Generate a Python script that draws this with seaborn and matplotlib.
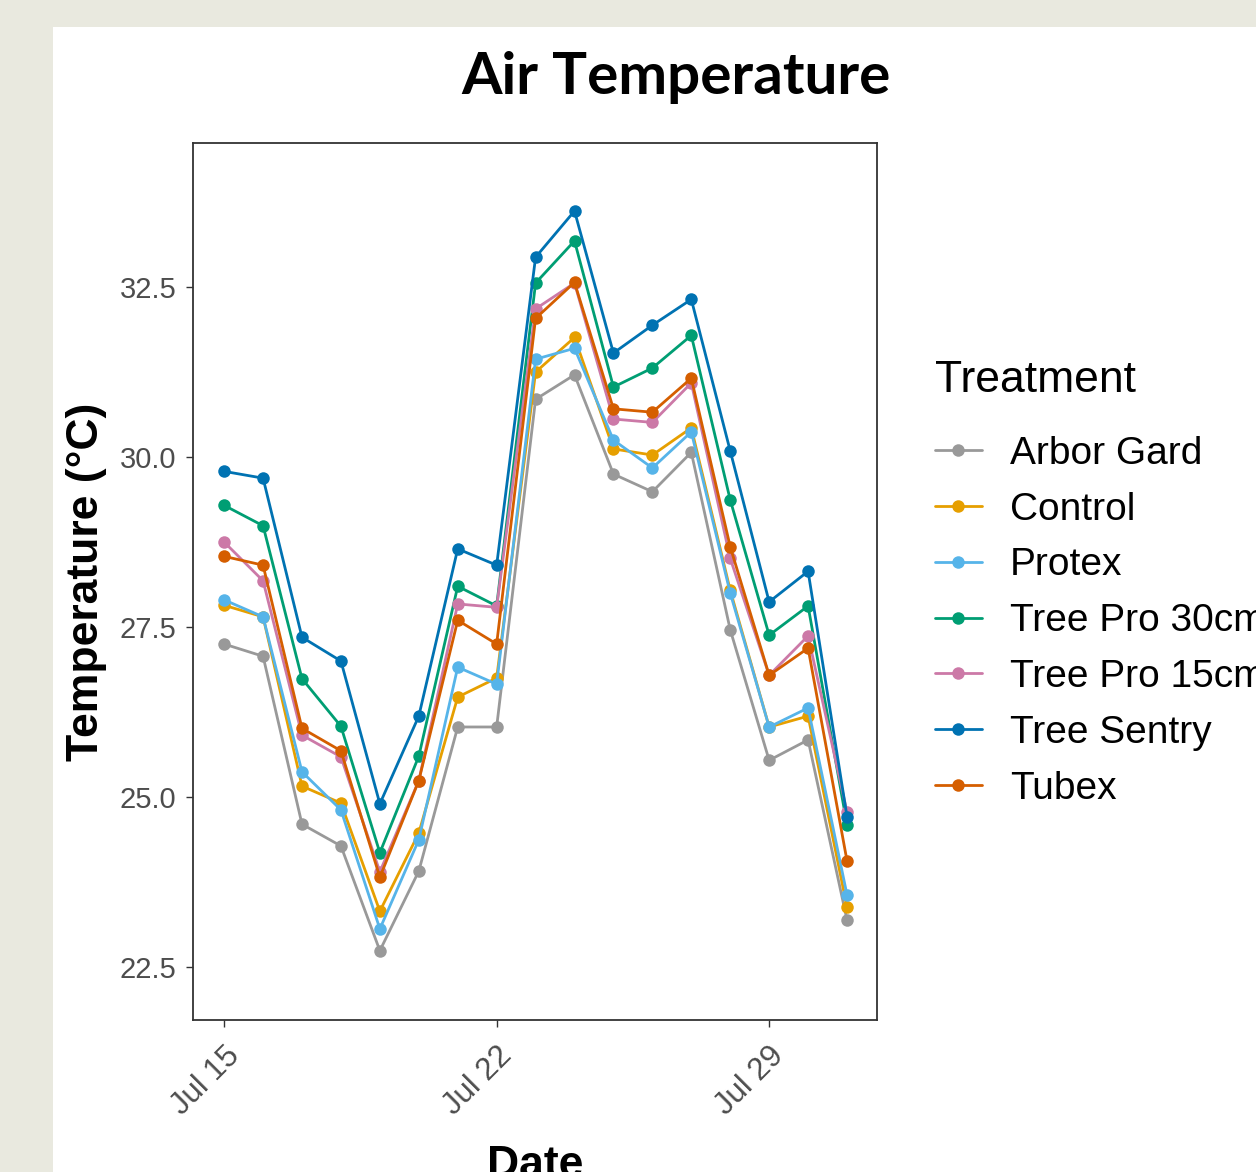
import pandas as pd
import numpy as np
import matplotlib.pyplot as plt
import matplotlib.dates as mdates
from matplotlib.patches import Rectangle
import seaborn as sns

# Daily mean air temperature per tree shelter treatment, Jul 15 - Jul 31
dates = pd.date_range("2019-07-15", "2019-07-31", freq="D")

arbor_gard = [27.25, 27.07, 24.60, 24.28, 22.74, 23.91, 26.03, 26.03, 30.85, 31.21,
              29.75, 29.49, 30.07, 27.46, 25.54, 25.84, 23.19]
control = [27.82, 27.65, 25.16, 24.91, 23.32, 24.47, 26.47, 26.75, 31.25, 31.76,
           30.12, 30.03, 30.43, 28.04, 26.03, 26.19, 23.38]
protex = [27.90, 27.65, 25.37, 24.81, 23.06, 24.37, 26.91, 26.66, 31.44, 31.60,
          30.25, 29.84, 30.37, 28.00, 26.03, 26.31, 23.56]
tree_pro_30 = [29.29, 28.99, 26.74, 26.04, 24.18, 25.60, 28.10, 27.81, 32.56, 33.18,
               31.03, 31.31, 31.79, 29.37, 27.38, 27.81, 24.59]
tree_pro_15 = [28.75, 28.18, 25.91, 25.59, 23.90, 25.24, 27.84, 27.79, 32.18, 32.56,
               30.56, 30.51, 31.09, 28.51, 26.79, 27.37, 24.78]
tree_sentry = [29.79, 29.69, 27.35, 27.00, 24.90, 26.19, 28.65, 28.41, 32.94, 33.62,
               31.53, 31.94, 32.32, 30.09, 27.87, 28.32, 24.71]
tubex = [28.54, 28.41, 26.01, 25.68, 23.82, 25.24, 27.60, 27.25, 32.04, 32.57,
         30.71, 30.66, 31.16, 28.68, 26.79, 27.19, 24.06]

treatments = ["Arbor Gard", "Control", "Protex", "Tree Pro 30cm",
              "Tree Pro 15cm", "Tree Sentry", "Tubex"]
series = [arbor_gard, control, protex, tree_pro_30, tree_pro_15, tree_sentry, tubex]
colors = ["#999999", "#E69F00", "#56B4E9", "#009E73", "#CC79A7", "#0072B2", "#D55E00"]

df = pd.concat([pd.DataFrame({"Date": dates, "Temperature": vals, "Treatment": name})
                for name, vals in zip(treatments, series)], ignore_index=True)

# -----------------------------
# Figure
# -----------------------------
sns.set_style("white")
plt.rcParams["font.family"] = ["Liberation Sans", "DejaVu Sans"]

fig = plt.figure(figsize=(12.56, 11.72), dpi=100, facecolor="#E9E9DF")
fig.patches.append(Rectangle((53 / 1256, 0), 1, 1 - 27 / 1172, transform=fig.transFigure,
                             facecolor="white", edgecolor="none", zorder=-1))
ax = fig.add_axes([193 / 1256, 1 - 1020 / 1172, (877 - 193) / 1256, (1020 - 143) / 1172])

sns.lineplot(data=df, x="Date", y="Temperature", hue="Treatment", hue_order=treatments,
             palette=colors, marker="o", markersize=9, markeredgewidth=0,
             linewidth=2.0, ax=ax)

ax.set_ylim(21.72, 34.62)
ax.set_yticks([22.5, 25.0, 27.5, 30.0, 32.5])
ax.set_xlim(dates[0] - pd.Timedelta(days=0.8), dates[-1] + pd.Timedelta(days=0.77))
ax.xaxis.set_major_locator(mdates.DayLocator(bymonthday=[15, 22, 29]))
ax.xaxis.set_major_formatter(mdates.DateFormatter("%b %d"))

ax.tick_params(axis="both", length=5, width=1, color="#333333",
               labelcolor="#4D4D4D", left=True, bottom=True)
ax.tick_params(axis="y", labelsize=21, pad=7)
ax.tick_params(axis="x", labelsize=22.5, pad=10)
plt.setp(ax.get_xticklabels(), rotation=45, ha="right", rotation_mode="anchor")
for s in ax.spines.values():
    s.set_color("#333333")
    s.set_linewidth(1.3)

ax.set_ylabel("Temperature (°C)", fontsize=32, fontweight="bold", color="black")
ax.yaxis.set_label_coords(-0.126, 0.5)
ax.set_xlabel("Date", fontsize=32, fontweight="bold", color="black", va="top")
ax.xaxis.set_label_coords(0.5, -0.1425)

fig.text(676 / 1256, 1 - 78 / 1172, "Air Temperature", ha="center", va="center",
         fontsize=42, fontweight="bold", color="black", family=["Lato", "DejaVu Sans"])

leg = ax.legend(title="Treatment", loc="upper left", bbox_to_anchor=(935 / 1256, 1 - 360 / 1172),
                bbox_transform=fig.transFigure, frameon=False, fontsize=28,
                title_fontsize=32, handlelength=1.2, handletextpad=0.72, labelspacing=0.51,
                borderpad=0, borderaxespad=0)
leg._legend_box.align = "left"
leg._legend_box.sep = 25
leg.get_title().set_color("black")
for t in leg.get_texts():
    t.set_color("black")

fig.savefig("out.png", dpi=100, facecolor=fig.get_facecolor())
